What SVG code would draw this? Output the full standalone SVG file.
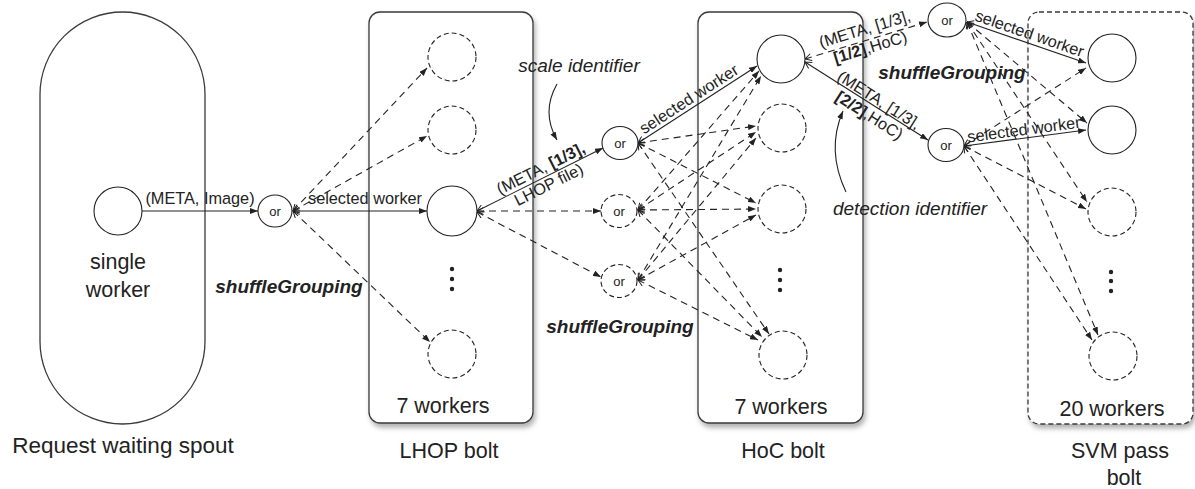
<svg xmlns="http://www.w3.org/2000/svg" width="1195" height="489" viewBox="0 0 1195 489">
  <defs>
    <style>
      text { font-family: "Liberation Sans", Arial, sans-serif; fill: #222; }
      .big { font-size: 21.5px; text-anchor: middle; }
      .lbl { font-size: 16.3px; text-anchor: middle; }
      .ital { font-size: 19px; font-style: italic; text-anchor: middle; }
      .sg { font-size: 19px; font-style: italic; font-weight: bold; text-anchor: middle; }
      .ortxt { font-size: 13px; text-anchor: middle; }
      .b { font-weight: bold; }
      .box { fill: #fff; stroke: #3a3a3a; stroke-width: 1.3; }
      .dbox { fill: #fff; stroke: #3a3a3a; stroke-width: 1.3; stroke-dasharray: 5 3; }
      .node { fill: #fff; stroke: #222; stroke-width: 1.1; }
      .dnode { fill: #fff; stroke: #222; stroke-width: 1.1; stroke-dasharray: 5 3; }
      .solid { fill: none; stroke: #222; stroke-width: 1.1; marker-end: url(#arrow); }
      .dash { fill: none; stroke: #222; stroke-width: 1.1; stroke-dasharray: 7 5; marker-end: url(#arrow); }
      .back { marker-start: url(#back); }
      .dot { fill: #222; }
    </style>
    <marker id="arrow" viewBox="0 0 8 6" refX="8" refY="3" markerWidth="8" markerHeight="6" markerUnits="userSpaceOnUse" orient="auto">
      <path d="M0,0 L8,3 L0,6 z" fill="#222" stroke="none"/>
    </marker>
    <marker id="back" viewBox="0 0 8 8" refX="7.5" refY="4" markerWidth="8" markerHeight="8" markerUnits="userSpaceOnUse" orient="auto-start-reverse">
      <path d="M1,0.5 L7.5,4 L1,7.5" fill="none" stroke="#222" stroke-width="1" stroke-dasharray="none"/>
    </marker>
    <filter id="shadow" x="-10%" y="-5%" width="125%" height="115%">
      <feDropShadow dx="2" dy="4" stdDeviation="2.5" flood-color="#000" flood-opacity="0.3"/>
    </filter>
  </defs>

  <rect width="1195" height="489" fill="#fff"/>

  <!-- containers -->
  <g id="spout">
    <rect x="40" y="12" width="165" height="412" rx="82.5" ry="82.5" class="box"/>
    <text class="big" x="118" y="269">single</text>
    <text class="big" x="118" y="297">worker</text>
    <text class="big" x="123" y="453" style="font-size:22.5px">Request waiting spout</text>
  </g>
  <g id="lhop-bolt">
    <rect x="369" y="12" width="164" height="411" rx="11" class="box" filter="url(#shadow)"/>
    <text class="big" x="443" y="413">7 workers</text>
    <text class="big" x="449" y="458">LHOP bolt</text>
  </g>
  <g id="hoc-bolt">
    <rect x="698" y="12" width="165" height="411" rx="11" class="box" filter="url(#shadow)"/>
    <text class="big" x="781" y="414">7 workers</text>
    <text class="big" x="783" y="458">HoC bolt</text>
  </g>
  <g id="svm-bolt">
    <rect x="1028" y="12" width="165" height="412" rx="11" class="dbox" filter="url(#shadow)"/>
    <text class="big" x="1112" y="416">20 workers</text>
    <text class="big" x="1120" y="458">SVM pass</text>
    <text class="big" x="1124" y="485">bolt</text>
  </g>

  <!-- connectors -->
  <g id="connectors">
    <line class="solid" x1="142" y1="211" x2="258" y2="211"/>

    <line class="dash back" x1="293" y1="211" x2="427" y2="68"/>
    <line class="dash back" x1="293" y1="211" x2="427" y2="136"/>
    <line class="solid back" x1="293" y1="211" x2="427" y2="211"/>
    <line class="dash back" x1="293" y1="211" x2="430" y2="342"/>

    <line class="solid back" x1="477" y1="211" x2="603" y2="148"/>
    <line class="dash back" x1="477" y1="211" x2="601" y2="211"/>
    <line class="dash back" x1="477" y1="212" x2="601" y2="277"/>

    <line class="solid back" x1="638" y1="143" x2="757" y2="66"/>
    <line class="dash back" x1="638" y1="143" x2="756" y2="126"/>
    <line class="dash back" x1="638" y1="143" x2="756" y2="203"/>
    <line class="dash back" x1="638" y1="143" x2="769" y2="334"/>

    <line class="dash back" x1="638" y1="210" x2="759" y2="71"/>
    <line class="dash back" x1="638" y1="210" x2="756" y2="132"/>
    <line class="dash back" x1="638" y1="210" x2="756" y2="209"/>
    <line class="dash back" x1="638" y1="210" x2="762" y2="337"/>

    <line class="dash back" x1="638" y1="280" x2="761" y2="76"/>
    <line class="dash back" x1="638" y1="280" x2="756" y2="138"/>
    <line class="dash back" x1="638" y1="280" x2="756" y2="215"/>
    <line class="dash back" x1="638" y1="280" x2="758" y2="340"/>

    <line class="dash back" x1="805" y1="59" x2="927" y2="22"/>
    <line class="solid back" x1="805" y1="62" x2="928" y2="140"/>

    <line class="solid back" x1="967" y1="22" x2="1086" y2="63"/>
    <line class="dash back" x1="967" y1="22" x2="1087" y2="123"/>
    <line class="dash back" x1="967" y1="22" x2="1087" y2="202"/>
    <line class="dash back" x1="967" y1="22" x2="1098" y2="335"/>

    <line class="dash back" x1="964" y1="146" x2="1086" y2="68"/>
    <line class="solid back" x1="964" y1="146" x2="1086" y2="130"/>
    <line class="dash back" x1="964" y1="146" x2="1086" y2="209"/>
    <line class="dash back" x1="964" y1="146" x2="1092" y2="340"/>

    <!-- annotation arrows -->
    <path class="solid" d="M557,84 Q541,112 557,140"/>
    <path class="solid" d="M846,192 Q826,150 843,111"/>
  </g>

  <!-- connector labels -->
  <g id="labels">
    <text class="lbl" x="200" y="204">(META, Image)</text>
    <text class="lbl" x="365" y="204">selected worker</text>
    <g transform="translate(545,177) rotate(-26.6)">
      <text class="lbl" x="0" y="-4">(META, <tspan class="b">[1/3],</tspan></text>
      <text class="lbl" x="0" y="14">LHOP file)</text>
    </g>
    <g transform="translate(694,107) rotate(-32.9)">
      <text class="lbl" x="0" y="-4">selected worker</text>
    </g>
    <g transform="translate(868,40) rotate(-16.9)">
      <text class="lbl" x="0" y="-6">(META, [1/3],</text>
      <text class="lbl" x="0" y="13"><tspan class="b">[1/2]</tspan>,HoC)</text>
    </g>
    <g transform="translate(875,106.5) rotate(32.4)">
      <text class="lbl" x="0" y="-2">(META, [1/3],</text>
      <text class="lbl" x="0" y="16"><tspan class="b">[2/2]</tspan>,HoC)</text>
    </g>
    <g transform="translate(1026.5,42.5) rotate(19)">
      <text class="lbl" x="0" y="-4">selected worker</text>
    </g>
    <g transform="translate(1025,138) rotate(-7.5)">
      <text class="lbl" x="0" y="-3">selected worker</text>
    </g>
    <text class="sg" x="289" y="293">shuffleGrouping</text>
    <text class="sg" x="620" y="333">shuffleGrouping</text>
    <text class="sg" x="952" y="79">shuffleGrouping</text>
    <text class="ital" x="579" y="72">scale identifier</text>
    <text class="ital" x="910" y="215">detection identifier</text>
  </g>

  <!-- worker nodes -->
  <g id="spout-worker"><circle cx="118" cy="211" r="24" class="node"/></g>

  <g id="lhop-w1"><circle cx="452" cy="57" r="24" class="dnode"/></g>
  <g id="lhop-w2"><circle cx="452" cy="130" r="24" class="dnode"/></g>
  <g id="lhop-w3"><circle cx="452" cy="211" r="25" class="node"/></g>
  <g id="lhop-more">
    <circle cx="452" cy="269" r="2.2" class="dot"/>
    <circle cx="452" cy="279" r="2.2" class="dot"/>
    <circle cx="452" cy="289" r="2.2" class="dot"/>
  </g>
  <g id="lhop-w4"><circle cx="452" cy="354" r="24" class="dnode"/></g>

  <g id="hoc-w1"><circle cx="781" cy="59" r="24" class="node"/></g>
  <g id="hoc-w2"><circle cx="782" cy="128" r="24" class="dnode"/></g>
  <g id="hoc-w3"><circle cx="782" cy="209" r="24" class="dnode"/></g>
  <g id="hoc-more">
    <circle cx="780" cy="270" r="2.2" class="dot"/>
    <circle cx="780" cy="280" r="2.2" class="dot"/>
    <circle cx="780" cy="290" r="2.2" class="dot"/>
  </g>
  <g id="hoc-w4"><circle cx="783" cy="355" r="24" class="dnode"/></g>

  <g id="svm-w1"><circle cx="1112" cy="58" r="24" class="node"/></g>
  <g id="svm-w2"><circle cx="1112" cy="130" r="24" class="node"/></g>
  <g id="svm-w3"><circle cx="1112" cy="212" r="24" class="dnode"/></g>
  <g id="svm-more">
    <circle cx="1111" cy="272" r="2.2" class="dot"/>
    <circle cx="1111" cy="281" r="2.2" class="dot"/>
    <circle cx="1111" cy="291" r="2.2" class="dot"/>
  </g>
  <g id="svm-w4"><circle cx="1113" cy="356" r="24" class="dnode"/></g>

  <!-- grouping (or) nodes -->
  <g id="or-spout">
    <ellipse cx="275" cy="211" rx="17" ry="16" class="node"/>
    <text class="ortxt" x="275" y="215.5">or</text>
  </g>
  <g id="or-lhop-a">
    <ellipse cx="620" cy="143" rx="18" ry="16.5" class="node"/>
    <text class="ortxt" x="620" y="147.5">or</text>
  </g>
  <g id="or-lhop-b">
    <ellipse cx="619" cy="211" rx="18" ry="16.5" class="dnode"/>
    <text class="ortxt" x="619" y="215.5">or</text>
  </g>
  <g id="or-lhop-c">
    <ellipse cx="619" cy="281" rx="18" ry="16.5" class="dnode"/>
    <text class="ortxt" x="619" y="285.5">or</text>
  </g>
  <g id="or-hoc-d">
    <ellipse cx="947" cy="20" rx="19" ry="17" class="node"/>
    <text class="ortxt" x="947" y="24.5">or</text>
  </g>
  <g id="or-hoc-e">
    <ellipse cx="946" cy="145" rx="18" ry="16.5" class="node"/>
    <text class="ortxt" x="946" y="149.5">or</text>
  </g>
</svg>
